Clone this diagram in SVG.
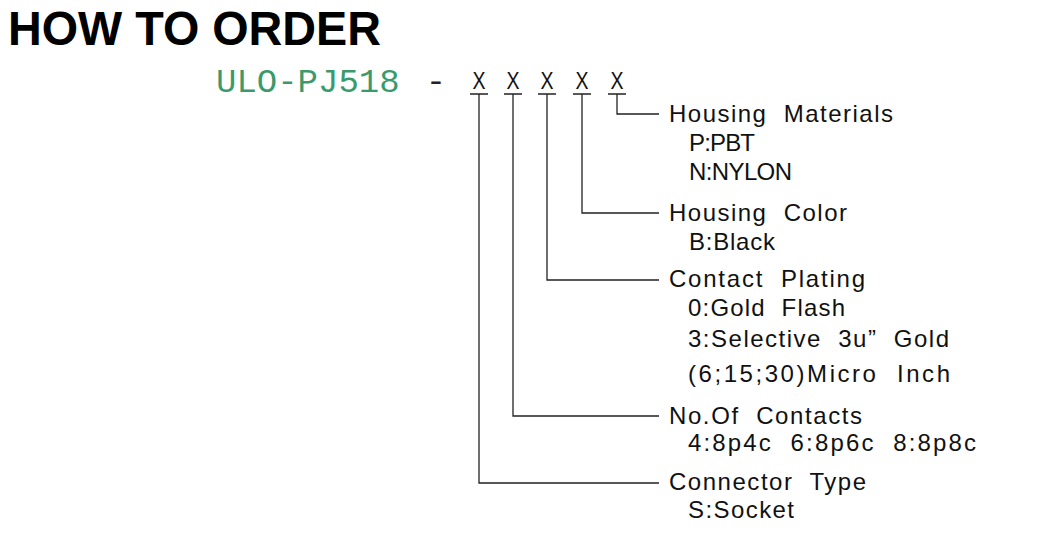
<svg xmlns="http://www.w3.org/2000/svg" width="1058" height="533" viewBox="0 0 1058 533">
<style>
.title{font-family:"Liberation Sans",Arial,sans-serif;font-weight:bold;font-size:48px;fill:#000}
.code{font-family:"Liberation Mono","Courier New",monospace;font-size:34px;fill:#3a9a6c}
.dash{font-family:"Liberation Mono","Courier New",monospace;font-size:34px;fill:#222}
.x{font-family:"Liberation Sans",Arial,sans-serif;font-size:23px;fill:#111}
.lbl{font-family:"Liberation Sans",Arial,sans-serif;font-size:24px;fill:#111;white-space:pre}
.ln{fill:none;stroke:#222;stroke-width:1.3}
</style>
<rect width="1058" height="533" fill="#fff"/>
<text class="title" x="8" y="45" textLength="373" lengthAdjust="spacingAndGlyphs">HOW TO ORDER</text>
<g id="code">
<text class="code" x="216" y="92">ULO-PJ518</text>
<text class="dash" x="436" y="92" text-anchor="middle">-</text>
<text class="x" x="472.5" y="89" textLength="13" lengthAdjust="spacingAndGlyphs">X</text>
<text class="x" x="506.5" y="89" textLength="13" lengthAdjust="spacingAndGlyphs">X</text>
<text class="x" x="540.5" y="89" textLength="13" lengthAdjust="spacingAndGlyphs">X</text>
<text class="x" x="575.5" y="89" textLength="13" lengthAdjust="spacingAndGlyphs">X</text>
<text class="x" x="610.5" y="89" textLength="13" lengthAdjust="spacingAndGlyphs">X</text>
</g>
<g id="connectors">
<path class="ln" d="M470 94H488M479 94V483H659"/>
<path class="ln" d="M504 94H522M513 94V416H659"/>
<path class="ln" d="M538 94H556M547 94V280H659"/>
<path class="ln" d="M573 94H591M582 94V213H659"/>
<path class="ln" d="M608 94H626M617 94V114H659"/>
</g>
<g id="housing-materials">
<text class="lbl" x="669" y="122" textLength="224" lengthAdjust="spacing" xml:space="preserve">Housing  Materials</text>
<text class="lbl" x="689" y="151" textLength="66" lengthAdjust="spacing">P:PBT</text>
<text class="lbl" x="689" y="180" textLength="103" lengthAdjust="spacing">N:NYLON</text>
</g>
<g id="housing-color">
<text class="lbl" x="669" y="221" textLength="178" lengthAdjust="spacing" xml:space="preserve">Housing  Color</text>
<text class="lbl" x="689" y="250" textLength="86" lengthAdjust="spacing">B:Black</text>
</g>
<g id="contact-plating">
<text class="lbl" x="669" y="287" textLength="196" lengthAdjust="spacing" xml:space="preserve">Contact  Plating</text>
<text class="lbl" x="688" y="316" textLength="157" lengthAdjust="spacing" xml:space="preserve">0:Gold  Flash</text>
<text class="lbl" x="688" y="347" textLength="261" lengthAdjust="spacing" xml:space="preserve">3:Selective  3u”  Gold</text>
<text class="lbl" x="688" y="382" textLength="262" lengthAdjust="spacing" xml:space="preserve">(6;15;30)Micro  Inch</text>
</g>
<g id="no-of-contacts">
<text class="lbl" x="669" y="424" textLength="193" lengthAdjust="spacing" xml:space="preserve">No.Of  Contacts</text>
<text class="lbl" x="688" y="451" textLength="288" lengthAdjust="spacing" xml:space="preserve">4:8p4c  6:8p6c  8:8p8c</text>
</g>
<g id="connector-type">
<text class="lbl" x="669" y="490" textLength="197" lengthAdjust="spacing" xml:space="preserve">Connector  Type</text>
<text class="lbl" x="688" y="518" textLength="106" lengthAdjust="spacing">S:Socket</text>
</g>
</svg>
